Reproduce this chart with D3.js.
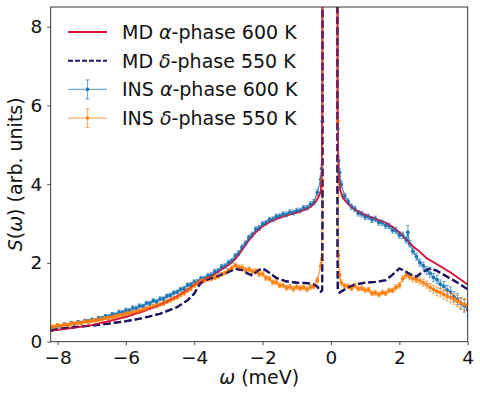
<!DOCTYPE html>
<html>
<head>
<meta charset="utf-8">
<script src="https://cdn.jsdelivr.net/npm/d3@7"></script>
<style>
  body { margin: 0; background: #fff; }
  svg { display: block; font-family: "DejaVu Sans", sans-serif; }
</style>
</head>
<body>
<div id="chart"></div>
<script>
"use strict";

// MD curves: [omega (meV), S(omega)]
const mdAlpha600 = [
  [-8.2, 0.28], [-8.0, 0.30], [-7.5, 0.36], [-7.0, 0.42], [-6.5, 0.52], [-6.0, 0.63],
  [-5.5, 0.77], [-5.0, 0.94], [-4.5, 1.15], [-4.0, 1.44], [-3.5, 1.67], [-3.0, 1.95],
  [-2.8, 2.10], [-2.6, 2.33], [-2.4, 2.58], [-2.2, 2.78], [-2.0, 2.93], [-1.8, 3.04],
  [-1.5, 3.15], [-1.2, 3.23], [-1.0, 3.28], [-0.8, 3.34], [-0.6, 3.42], [-0.45, 3.55],
  [-0.35, 3.70], [-0.3, 3.82], [-0.27, 4.3], [-0.25, 6.0], [-0.245, 30], [0.185, 30],
  [0.19, 6.0], [0.22, 4.3], [0.27, 3.85], [0.35, 3.65], [0.5, 3.50], [0.7, 3.35],
  [1.0, 3.22], [1.3, 3.12], [1.6, 3.02], [1.8, 2.92], [2.0, 2.78], [2.2, 2.60],
  [2.4, 2.42], [2.6, 2.28], [2.8, 2.12], [3.0, 2.02], [3.5, 1.76], [4.0, 1.45]
];

const mdDelta550 = [
  [-8.2, 0.28], [-8.0, 0.32], [-7.5, 0.37], [-7.0, 0.41], [-6.5, 0.46], [-6.0, 0.52],
  [-5.5, 0.60], [-5.0, 0.71], [-4.5, 0.88], [-4.2, 1.05], [-4.0, 1.22], [-3.9, 1.38],
  [-3.8, 1.50], [-3.6, 1.58], [-3.3, 1.67], [-3.0, 1.77], [-2.8, 1.85], [-2.6, 1.82],
  [-2.45, 1.74], [-2.3, 1.68], [-2.15, 1.80], [-2.0, 1.86], [-1.85, 1.78], [-1.6, 1.62],
  [-1.3, 1.53], [-1.0, 1.50], [-0.7, 1.49], [-0.5, 1.45], [-0.4, 1.40], [-0.3, 1.27],
  [-0.26, 1.30], [-0.25, 3.0], [-0.245, 30], [0.185, 30], [0.19, 3.0], [0.2, 1.30],
  [0.25, 1.25], [0.35, 1.30], [0.5, 1.38], [0.7, 1.45], [1.0, 1.50], [1.3, 1.52],
  [1.6, 1.56], [1.8, 1.70], [2.0, 1.86], [2.15, 1.80], [2.3, 1.72], [2.5, 1.65],
  [2.7, 1.78], [2.9, 1.86], [3.1, 1.80], [3.4, 1.65], [3.7, 1.50], [4.0, 1.33]
];

// INS data: [omega (meV), S(omega), error]
const insAlpha600 = [
  [-8.2, 0.37, 0.04], [-8.1, 0.36, 0.04], [-8.0, 0.41, 0.04], [-7.9, 0.39, 0.04], [-7.8, 0.44, 0.04],
  [-7.7, 0.42, 0.04], [-7.6, 0.47, 0.04], [-7.5, 0.45, 0.04], [-7.4, 0.50, 0.04], [-7.3, 0.48, 0.04],
  [-7.2, 0.53, 0.04], [-7.1, 0.52, 0.04], [-7.0, 0.56, 0.04], [-6.9, 0.55, 0.04], [-6.8, 0.60, 0.04],
  [-6.7, 0.60, 0.04], [-6.6, 0.65, 0.04], [-6.5, 0.64, 0.04], [-6.4, 0.70, 0.04], [-6.3, 0.69, 0.04],
  [-6.2, 0.75, 0.05], [-6.1, 0.74, 0.05], [-6.0, 0.80, 0.05], [-5.9, 0.79, 0.05], [-5.8, 0.86, 0.05],
  [-5.7, 0.85, 0.05], [-5.6, 0.91, 0.05], [-5.5, 0.90, 0.05], [-5.4, 0.98, 0.05], [-5.3, 0.97, 0.05],
  [-5.2, 1.04, 0.05], [-5.1, 1.02, 0.05], [-5.0, 1.09, 0.05], [-4.9, 1.09, 0.05], [-4.8, 1.16, 0.05],
  [-4.7, 1.18, 0.05], [-4.6, 1.24, 0.05], [-4.5, 1.26, 0.05], [-4.4, 1.33, 0.05], [-4.3, 1.35, 0.05],
  [-4.2, 1.44, 0.05], [-4.1, 1.45, 0.05], [-4.0, 1.52, 0.05], [-3.9, 1.53, 0.05], [-3.8, 1.61, 0.05],
  [-3.7, 1.61, 0.05], [-3.6, 1.68, 0.06], [-3.5, 1.69, 0.06], [-3.4, 1.78, 0.06], [-3.3, 1.80, 0.06],
  [-3.2, 1.90, 0.06], [-3.1, 1.92, 0.06], [-3.0, 2.01, 0.06], [-2.9, 2.05, 0.06], [-2.8, 2.18, 0.06],
  [-2.7, 2.25, 0.06], [-2.6, 2.40, 0.06], [-2.5, 2.50, 0.06], [-2.4, 2.65, 0.06], [-2.3, 2.72, 0.06],
  [-2.2, 2.86, 0.06], [-2.1, 2.89, 0.06], [-2.0, 2.99, 0.06], [-1.9, 3.02, 0.06], [-1.8, 3.10, 0.06],
  [-1.7, 3.11, 0.06], [-1.6, 3.18, 0.06], [-1.5, 3.19, 0.06], [-1.4, 3.24, 0.06], [-1.3, 3.23, 0.06],
  [-1.2, 3.29, 0.06], [-1.1, 3.28, 0.06], [-1.0, 3.33, 0.06], [-0.9, 3.33, 0.06], [-0.8, 3.40, 0.06],
  [-0.7, 3.40, 0.06], [-0.6, 3.49, 0.07], [-0.5, 3.54, 0.07], [-0.4, 3.79, 0.08], [-0.3, 4.12, 0.09],
  [-0.27, 4.40, 0.1], [-0.25, 5.60, 0.12], [-0.24, 30, 0], [0.185, 30, 0], [0.2, 5.40, 0.12],
  [0.22, 4.60, 0.1], [0.25, 4.30, 0.09], [0.3, 4.00, 0.08], [0.4, 3.70, 0.07], [0.5, 3.56, 0.07],
  [0.6, 3.43, 0.07], [0.7, 3.37, 0.07], [0.8, 3.26, 0.07], [0.9, 3.24, 0.07], [1.0, 3.17, 0.07],
  [1.1, 3.17, 0.07], [1.2, 3.10, 0.07], [1.3, 3.12, 0.07], [1.4, 3.03, 0.07], [1.5, 3.02, 0.07],
  [1.6, 2.95, 0.07], [1.7, 2.94, 0.07], [1.8, 2.83, 0.07], [1.9, 2.82, 0.08], [2.0, 2.71, 0.08],
  [2.1, 2.70, 0.08], [2.2, 2.58, 0.08], [2.25, 2.78, 0.17], [2.3, 2.49, 0.08], [2.4, 2.30, 0.08],
  [2.5, 2.16, 0.09], [2.6, 2.01, 0.09], [2.7, 1.93, 0.09], [2.8, 1.81, 0.1], [2.9, 1.74, 0.1],
  [3.0, 1.63, 0.1], [3.1, 1.58, 0.11], [3.2, 1.46, 0.11], [3.3, 1.41, 0.12], [3.4, 1.31, 0.12],
  [3.5, 1.26, 0.13], [3.6, 1.14, 0.13], [3.7, 1.08, 0.14], [3.8, 0.97, 0.15], [3.9, 0.91, 0.16],
  [4.0, 0.82, 0.17]
];

const insDelta550 = [
  [-8.2, 0.38, 0.04], [-8.1, 0.38, 0.04], [-8.0, 0.42, 0.04], [-7.9, 0.40, 0.04], [-7.8, 0.44, 0.04],
  [-7.7, 0.42, 0.04], [-7.6, 0.46, 0.04], [-7.5, 0.46, 0.04], [-7.4, 0.48, 0.04], [-7.3, 0.48, 0.04],
  [-7.2, 0.51, 0.04], [-7.1, 0.51, 0.04], [-7.0, 0.53, 0.04], [-6.9, 0.54, 0.04], [-6.8, 0.56, 0.04],
  [-6.7, 0.57, 0.04], [-6.6, 0.60, 0.04], [-6.5, 0.60, 0.04], [-6.4, 0.63, 0.04], [-6.3, 0.64, 0.04],
  [-6.2, 0.67, 0.04], [-6.1, 0.68, 0.04], [-6.0, 0.71, 0.04], [-5.9, 0.72, 0.04], [-5.8, 0.75, 0.04],
  [-5.7, 0.76, 0.04], [-5.6, 0.79, 0.04], [-5.5, 0.81, 0.05], [-5.4, 0.84, 0.05], [-5.3, 0.86, 0.05],
  [-5.2, 0.90, 0.05], [-5.1, 0.91, 0.05], [-5.0, 0.95, 0.05], [-4.9, 0.97, 0.05], [-4.8, 1.02, 0.05],
  [-4.7, 1.05, 0.05], [-4.6, 1.10, 0.05], [-4.5, 1.13, 0.05], [-4.4, 1.19, 0.05], [-4.3, 1.23, 0.05],
  [-4.2, 1.30, 0.05], [-4.1, 1.35, 0.05], [-4.0, 1.43, 0.05], [-3.9, 1.49, 0.05], [-3.8, 1.54, 0.05],
  [-3.7, 1.56, 0.05], [-3.6, 1.59, 0.05], [-3.5, 1.60, 0.05], [-3.4, 1.63, 0.05], [-3.3, 1.66, 0.05],
  [-3.2, 1.71, 0.05], [-3.1, 1.75, 0.05], [-3.0, 1.81, 0.05], [-2.9, 1.87, 0.06], [-2.8, 1.94, 0.06],
  [-2.7, 1.89, 0.06], [-2.6, 1.89, 0.06], [-2.5, 1.82, 0.06], [-2.4, 1.84, 0.06], [-2.3, 1.78, 0.06],
  [-2.2, 1.80, 0.06], [-2.1, 1.72, 0.06], [-2.0, 1.72, 0.06], [-1.9, 1.62, 0.06], [-1.8, 1.60, 0.06],
  [-1.7, 1.51, 0.06], [-1.6, 1.51, 0.06], [-1.5, 1.43, 0.06], [-1.4, 1.43, 0.06], [-1.3, 1.37, 0.06],
  [-1.2, 1.39, 0.06], [-1.1, 1.34, 0.06], [-1.0, 1.39, 0.06], [-0.9, 1.36, 0.06], [-0.8, 1.38, 0.06],
  [-0.7, 1.33, 0.06], [-0.6, 1.39, 0.06], [-0.5, 1.41, 0.06], [-0.4, 1.56, 0.07], [-0.3, 1.92, 0.08],
  [-0.27, 2.10, 0.09], [-0.25, 4.10, 0.12], [-0.24, 30, 0], [0.185, 30, 0], [0.2, 5.60, 0.12],
  [0.22, 2.20, 0.09], [0.25, 1.70, 0.08], [0.3, 1.50, 0.07], [0.4, 1.42, 0.06], [0.5, 1.41, 0.06],
  [0.6, 1.36, 0.06], [0.7, 1.42, 0.06], [0.8, 1.35, 0.06], [0.9, 1.36, 0.06], [1.0, 1.31, 0.06],
  [1.1, 1.32, 0.06], [1.2, 1.23, 0.06], [1.3, 1.24, 0.06], [1.4, 1.20, 0.06], [1.5, 1.25, 0.06],
  [1.6, 1.23, 0.06], [1.7, 1.30, 0.06], [1.8, 1.30, 0.06], [1.9, 1.38, 0.07], [2.0, 1.43, 0.07],
  [2.1, 1.60, 0.07], [2.2, 1.69, 0.08], [2.3, 1.65, 0.08], [2.4, 1.60, 0.08], [2.5, 1.58, 0.08],
  [2.6, 1.55, 0.09], [2.7, 1.50, 0.09], [2.8, 1.45, 0.09], [2.9, 1.38, 0.1], [3.0, 1.33, 0.1],
  [3.1, 1.28, 0.11], [3.2, 1.25, 0.11], [3.3, 1.20, 0.12], [3.4, 1.15, 0.12], [3.5, 1.12, 0.13],
  [3.6, 1.08, 0.13], [3.7, 1.03, 0.14], [3.8, 0.98, 0.14], [3.9, 0.95, 0.15], [4.0, 0.92, 0.15]
];

const xTicks = [-8, -6, -4, -2, 0, 2, 4];
const yTicks = [0, 2, 4, 6, 8];

const legendItems = [
  { pre: "MD ", greek: "α", post: "-phase 600 K", kind: "solid" },
  { pre: "MD ", greek: "δ", post: "-phase 550 K", kind: "dashed" },
  { pre: "INS ", greek: "α", post: "-phase 600 K", kind: "insA" },
  { pre: "INS ", greek: "δ", post: "-phase 550 K", kind: "insD" }
];

const colors = { red: "#dc143c", navy: "#1b1363", blue: "#1f77b4", orange: "#ff7f0e" };

// Layout
const W = 480, H = 395;
const margin = { left: 50.7, top: 7, right: 12.3, bottom: 53.3 };
const innerW = W - margin.left - margin.right;
const innerH = H - margin.top - margin.bottom;

const svg = d3.select("#chart").append("svg").attr("width", W).attr("height", H);
const g = svg.append("g").attr("transform", `translate(${margin.left},${margin.top})`);

const x = d3.scaleLinear().domain([-8.2, 4]).range([0, innerW]);
const y = d3.scaleLinear().domain([0, 8.5]).range([innerH, 0]);

svg.append("defs").append("clipPath").attr("id", "plotClip")
  .append("rect").attr("width", innerW).attr("height", innerH);

const plot = g.append("g").attr("clip-path", "url(#plotClip)");

const line = d3.line().x(d => x(d[0])).y(d => y(d[1]));

// INS series with error bars
function drawIns(data, color) {
  const grp = plot.append("g");
  grp.append("path").datum(data).attr("d", line)
    .attr("fill", "none").attr("stroke", color).attr("stroke-width", 1.2).attr("opacity", 0.8);
  const pts = data.filter(d => d[1] < 20);
  grp.selectAll(".eb").data(pts).join("line")
    .attr("x1", d => x(d[0])).attr("x2", d => x(d[0]))
    .attr("y1", d => y(d[1] - d[2])).attr("y2", d => y(d[1] + d[2]))
    .attr("stroke", color).attr("stroke-width", 1).attr("opacity", 0.65);
  ["top", "bot"].forEach(side => {
    grp.selectAll(".cap-" + side).data(pts).join("line")
      .attr("x1", d => x(d[0]) - 1.6).attr("x2", d => x(d[0]) + 1.6)
      .attr("y1", d => y(side === "top" ? d[1] + d[2] : d[1] - d[2]))
      .attr("y2", d => y(side === "top" ? d[1] + d[2] : d[1] - d[2]))
      .attr("stroke", color).attr("stroke-width", 1).attr("opacity", 0.65);
  });
  grp.selectAll("circle").data(pts).join("circle")
    .attr("cx", d => x(d[0])).attr("cy", d => y(d[1])).attr("r", 1.9)
    .attr("fill", color);
}

// MD lines under and over the INS points
const dashedStyle = p => p.attr("fill", "none").attr("stroke", colors.navy)
  .attr("stroke-width", 2.2).attr("stroke-dasharray", "7.4,3.2");
plot.append("path").datum(mdDelta550).attr("d", line).call(dashedStyle);
plot.append("path").datum(mdAlpha600).attr("d", line)
  .attr("fill", "none").attr("stroke", colors.red).attr("stroke-width", 1.8);
drawIns(insAlpha600, colors.blue);
drawIns(insDelta550, colors.orange);
plot.append("path").datum(mdDelta550).attr("d", line).call(dashedStyle).attr("opacity", 0.85);
plot.append("path").datum(mdAlpha600).attr("d", line)
  .attr("fill", "none").attr("stroke", colors.red).attr("stroke-width", 1.6).attr("opacity", 0.55);

// Axes
const xAxis = g.append("g").attr("transform", `translate(0,${innerH})`)
  .call(d3.axisBottom(x).tickValues(xTicks).tickSize(3.5).tickPadding(4)
    .tickFormat(d => d < 0 ? "\u2212" + Math.abs(d) : d));
const yAxis = g.append("g")
  .call(d3.axisLeft(y).tickValues(yTicks).tickSize(3.5).tickPadding(5));
[xAxis, yAxis].forEach(a => {
  a.select(".domain").remove();
  a.selectAll("line").attr("stroke", "#222").attr("stroke-width", 0.8);
  a.selectAll("text").attr("font-size", 18.5).attr("fill", "#111")
    .attr("font-family", "DejaVu Sans, sans-serif");
});
xAxis.selectAll("text").attr("dy", "0.78em");

// Frame
g.append("rect").attr("width", innerW).attr("height", innerH)
  .attr("fill", "none").attr("stroke", "#222").attr("stroke-width", 0.9);

// Axis labels
const xl = svg.append("text").attr("x", margin.left + innerW / 2).attr("y", 384)
  .attr("text-anchor", "middle").attr("font-size", 19).attr("fill", "#111");
xl.append("tspan").attr("font-style", "italic").text("ω");
xl.append("tspan").text(" (meV)");

const yl = svg.append("text")
  .attr("transform", `translate(22,${margin.top + innerH / 2}) rotate(-90)`)
  .attr("text-anchor", "middle").attr("font-size", 19).attr("fill", "#111");
yl.append("tspan").attr("font-style", "italic").text("S");
yl.append("tspan").text("(");
yl.append("tspan").attr("font-style", "italic").text("ω");
yl.append("tspan").text(") (arb. units)");

// Legend
const legend = svg.append("g");
legendItems.forEach((item, i) => {
  const cy = 32 + i * 28.7;
  const row = legend.append("g");
  if (item.kind === "solid") {
    row.append("line").attr("x1", 68).attr("x2", 107).attr("y1", cy).attr("y2", cy)
      .attr("stroke", colors.red).attr("stroke-width", 2);
  } else if (item.kind === "dashed") {
    row.append("line").attr("x1", 68).attr("x2", 107).attr("y1", cy).attr("y2", cy)
      .attr("stroke", colors.navy).attr("stroke-width", 2).attr("stroke-dasharray", "5,2");
  } else {
    const c = item.kind === "insA" ? colors.blue : colors.orange;
    row.append("line").attr("x1", 68).attr("x2", 107).attr("y1", cy).attr("y2", cy)
      .attr("stroke", c).attr("stroke-width", 1.2).attr("opacity", 0.6);
    row.append("line").attr("x1", 87.5).attr("x2", 87.5).attr("y1", cy - 9.5).attr("y2", cy + 9.5)
      .attr("stroke", c).attr("stroke-width", 1.2).attr("opacity", 0.6);
    [-9.5, 9.5].forEach(o => row.append("line").attr("x1", 85.5).attr("x2", 89.5)
      .attr("y1", cy + o).attr("y2", cy + o).attr("stroke", c).attr("stroke-width", 1.2).attr("opacity", 0.6));
    row.append("circle").attr("cx", 87.5).attr("cy", cy).attr("r", 1.8).attr("fill", c);
  }
  const t = row.append("text").attr("x", 122).attr("y", cy + 6.9)
    .attr("font-size", 19).attr("fill", "#111");
  t.append("tspan").text(item.pre);
  t.append("tspan").attr("font-style", "italic").text(item.greek);
  t.append("tspan").text(item.post);
});
</script>
</body>
</html>
